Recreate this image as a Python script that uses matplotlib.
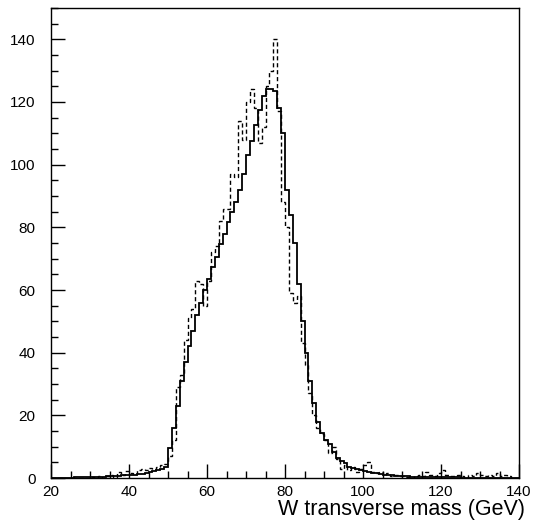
import matplotlib
matplotlib.use("Agg")
import matplotlib.pyplot as plt
import numpy as np
from matplotlib.ticker import MultipleLocator

# bin edges: 1 GeV bins from 20 to 140
bin_lo = 20
bin_hi = 140

# solid histogram, one value per GeV bin starting at 20
solid = [
    0, 0, 0, 0.1, 0.1, 0.1, 0.2, 0.2, 0.2, 0.3,          # 20-29
    0.3, 0.3, 0.4, 0.4, 0.5, 0.5, 0.6, 0.7, 0.8, 0.9,    # 30-39
    1.0, 1.1, 1.3, 1.4, 1.6, 1.8, 2.1, 2.5, 3.0, 3.5,    # 40-49
    9.5, 16, 23, 31, 37, 42, 47, 52, 56, 60,             # 50-59
    63.5, 67.4, 70.5, 74.6, 77.9, 81.8, 85, 88, 92, 97,  # 60-69
    103, 107.6, 112.6, 117.5, 122, 124, 124, 123.5, 118, 110,  # 70-79
    92, 84, 75, 62, 50, 40, 31, 24, 18, 14.5,            # 80-89
    12, 11, 8.4, 6.4, 5.5, 4.8, 3.6, 3.3, 3.0, 2.6,      # 90-99
    2.3, 2.0, 1.7, 1.5, 1.3, 1.1, 0.9, 0.8, 0.7, 0.6,    # 100-109
    0.5, 0.5, 0.4, 0.4, 0.4, 0.3, 0.3, 0.3, 0.3, 0.2,    # 110-119
    0.2, 0.2, 0.2, 0.2, 0.2, 0.1, 0.1, 0.1, 0.1, 0.1,    # 120-129
    0.1, 0.1, 0.1, 0.1, 0.1, 0.1, 0.1, 0.1, 0.1, 0.1,    # 130-139
]

# dashed histogram
dashed = [
    0, 0, 0, 0, 0, 0, 0, 0, 0, 0,                        # 20-29
    0.3, 0, 0.6, 0, 0.5, 0.9, 0.4, 1.8, 0.8, 2.3,        # 30-39
    1.5, 1.2, 2.6, 3.0, 2.5, 3.2, 2.8, 3.5, 4.0, 4.5,    # 40-49
    7, 12, 29, 33, 44, 51, 54, 63, 62, 55,               # 50-59
    63, 72, 74, 82, 86, 86, 97, 96, 114, 108,            # 60-69
    120, 124, 118, 107, 112, 125, 130, 140, 117, 88,     # 70-79
    80, 59, 56, 58, 43, 36, 27, 20, 16, 14,              # 80-89
    12, 8, 10, 6, 3, 4, 2.5, 3.5, 2, 3,                  # 90-99
    4, 5, 2, 1.5, 2, 1, 1.5, 0.5, 1, 0.5,                # 100-109
    0.7, 0.3, 0, 0.5, 1, 0.5, 2, 1, 0.5, 1.5,            # 110-119
    2.5, 1, 0.5, 0.5, 1, 0.5, 0, 1, 0.5, 1.5,            # 120-129
    1, 0.5, 1, 0.5, 1.5, 0.5, 1, 0.5, 0, 0,              # 130-139
]

edges = np.arange(bin_lo, bin_hi + 1)

plt.rcParams['font.family'] = ['Liberation Sans', 'DejaVu Sans']

fig = plt.figure(figsize=(5.36, 5.23), dpi=100)
ax = fig.add_axes([51/536, 45/523, 468/536, 470/523])

ax.stairs(solid, edges, color='black', lw=1.3)
ax.stairs(dashed, edges, color='black', lw=1.0, linestyle=(0, (3, 2)))

ax.set_xlim(bin_lo, bin_hi)
ax.set_ylim(0, 150)
ax.xaxis.set_major_locator(MultipleLocator(20))
ax.xaxis.set_minor_locator(MultipleLocator(5))
ax.yaxis.set_major_locator(MultipleLocator(20))
ax.yaxis.set_minor_locator(MultipleLocator(5))
ax.tick_params(which='both', direction='in', top=False, right=False,
               labelsize=11, width=1)
ax.tick_params(which='major', length=10)
ax.tick_params(which='minor', length=5)
ax.tick_params(axis='y', pad=11)
ax.tick_params(axis='x', pad=5)
for sp in ax.spines.values():
    sp.set_linewidth(1)

fig.text(525/536, 13/523, "W transverse mass (GeV)", ha='right',
         va='center', fontsize=15.5)

fig.savefig("out.png", dpi=100)
